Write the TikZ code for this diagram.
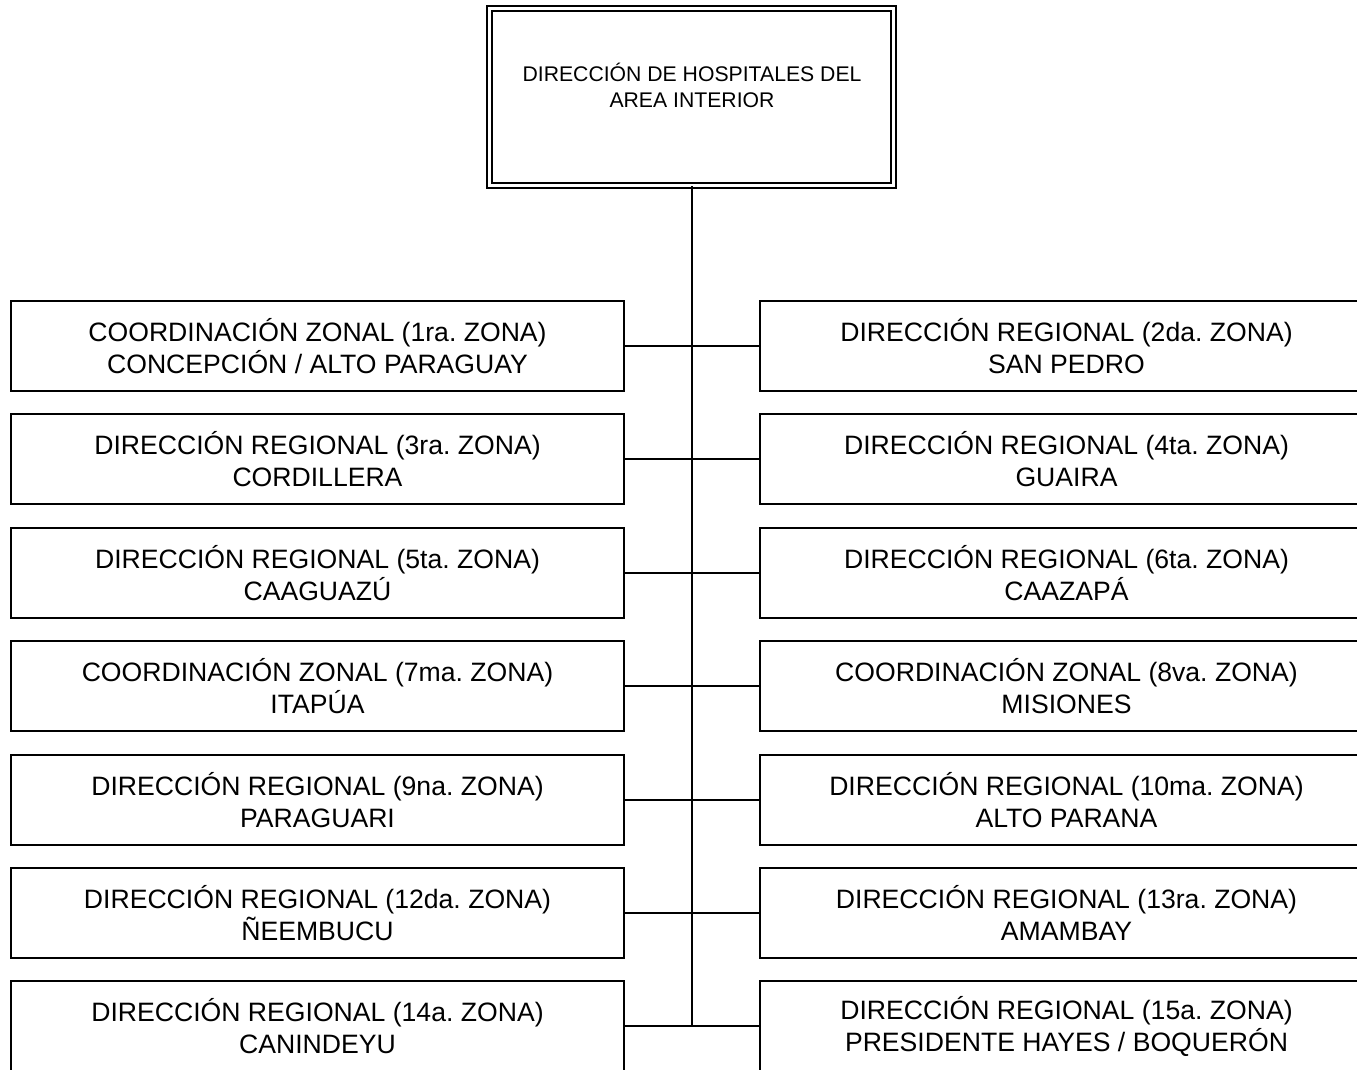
\documentclass[tikz,border=0pt]{standalone}
\usepackage{fontspec}
\setmainfont{Liberation Sans}
\frenchspacing
\begin{document}
\begin{tikzpicture}[x=1pt,y=-1pt,
  zonebox/.style={draw=black,line width=1.3pt,minimum width=613pt,minimum height=90pt,inner sep=0pt,
    align=center,font=\fontsize{26.6}{32}\selectfont},
  conn/.style={draw=black,line width=2pt}]
\useasboundingbox (0,0) rectangle (1357,1070);
\clip (0,0) rectangle (1357,1070);
\node[draw=black,double,line width=1.4pt,double distance=3.6pt,minimum width=404pt,minimum height=177pt,inner sep=0pt] (top) at (691.5,97) {};
\node[align=center,font=\fontsize{21.2}{26}\selectfont,anchor=center] (toptext) at (692,85) {DIRECCIÓN DE HOSPITALES DEL\\AREA INTERIOR};
\coordinate (trunkend) at (691,1026);
\node[zonebox] (L1) at (317.5,346) {COORDINACIÓN ZONAL (1ra. ZONA)\\CONCEPCIÓN / ALTO PARAGUAY};
\node[zonebox] (R1) at (1066.5,346) {DIRECCIÓN REGIONAL (2da. ZONA)\\SAN PEDRO};
\node[zonebox] (L2) at (317.5,459) {DIRECCIÓN REGIONAL (3ra. ZONA)\\CORDILLERA};
\node[zonebox] (R2) at (1066.5,459) {DIRECCIÓN REGIONAL (4ta. ZONA)\\GUAIRA};
\node[zonebox] (L3) at (317.5,573) {DIRECCIÓN REGIONAL (5ta. ZONA)\\CAAGUAZÚ};
\node[zonebox] (R3) at (1066.5,573) {DIRECCIÓN REGIONAL (6ta. ZONA)\\CAAZAPÁ};
\node[zonebox] (L4) at (317.5,686) {COORDINACIÓN ZONAL (7ma. ZONA)\\ITAPÚA};
\node[zonebox] (R4) at (1066.5,686) {COORDINACIÓN ZONAL (8va. ZONA)\\MISIONES};
\node[zonebox] (L5) at (317.5,800) {DIRECCIÓN REGIONAL (9na. ZONA)\\PARAGUARI};
\node[zonebox] (R5) at (1066.5,800) {DIRECCIÓN REGIONAL (10ma. ZONA)\\ALTO PARANA};
\node[zonebox] (L6) at (317.5,913) {DIRECCIÓN REGIONAL (12da. ZONA)\\ÑEEMBUCU};
\node[zonebox] (R6) at (1066.5,913) {DIRECCIÓN REGIONAL (13ra. ZONA)\\AMAMBAY};
\node[zonebox] (L7) at (317.5,1026) {DIRECCIÓN REGIONAL (14a. ZONA)\\CANINDEYU};
\node[zonebox] (R7) at (1066.5,1026) {DIRECCIÓN REGIONAL (15a. ZONA)\\PRESIDENTE HAYES / BOQUERÓN};
\draw[conn] (top.south) -- (top.south |- trunkend);
\foreach \i in {1,...,7} {\draw[conn] (L\i.east) -- (R\i.west);}
\end{tikzpicture}
\end{document}
